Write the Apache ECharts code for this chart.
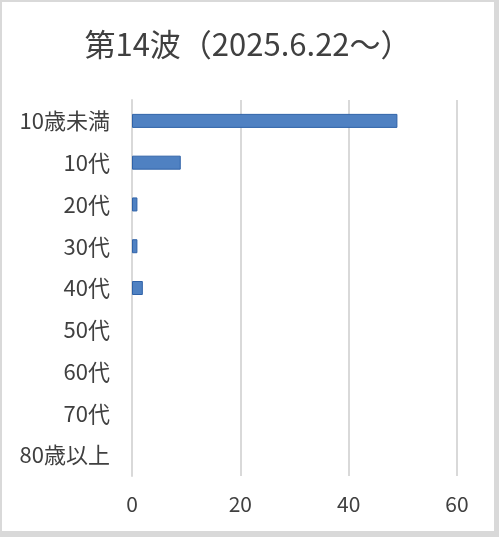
<!DOCTYPE html>
<html>
<head>
<meta charset="utf-8">
<script src="https://cdn.jsdelivr.net/npm/echarts@6/dist/echarts.min.js"></script>
<style>
  html, body { margin: 0; padding: 0; background: #d9d9d9; }
  #chart {
    position: absolute;
    left: 2px;
    top: 2px;
    width: 492px;
    height: 529px;
    background: #ffffff;
  }
</style>
</head>
<body>
<div id="chart"></div>
<script>
// 年代別
const ageGroups = ["10歳未満", "10代", "20代", "30代", "40代", "50代", "60代", "70代", "80歳以上"];
const counts = [49, 9, 1, 1, 2, 0, 0, 0, 0];
const xTicks = [0, 20, 40, 60];
const titleText = "第14波（2025.6.22～）";

const font = "'Noto Sans CJK JP', 'Noto Sans', sans-serif";
const chart = echarts.init(document.getElementById("chart"));

// 0件の棒は枠線を消す
const barData = counts.map(v => ({
  value: v,
  itemStyle: { borderWidth: v > 0 ? 1 : 0 }
}));

chart.setOption({
  animation: false,
  title: {
    text: titleText,
    left: "center",
    top: 22,
    textStyle: {
      fontFamily: font,
      fontSize: 31,
      fontWeight: "normal",
      color: "#404040"
    }
  },
  grid: {
    left: 130,
    right: 37,
    top: 98,
    bottom: 55,
    containLabel: false
  },
  xAxis: {
    type: "value",
    min: xTicks[0],
    max: xTicks[xTicks.length - 1],
    interval: xTicks[1] - xTicks[0],
    axisLine: { show: false },
    axisTick: { show: false },
    axisLabel: {
      margin: 18,
      fontFamily: font,
      fontSize: 21,
      color: "#404040"
    },
    splitLine: {
      lineStyle: { color: "#d9d9d9", width: 2 }
    }
  },
  yAxis: {
    type: "category",
    inverse: true,
    data: ageGroups,
    axisLine: {
      show: true,
      lineStyle: { color: "#d9d9d9", width: 2 }
    },
    axisTick: { show: false },
    axisLabel: {
      margin: 22,
      fontFamily: font,
      fontSize: 22,
      color: "#404040"
    }
  },
  series: [
    {
      type: "bar",
      data: barData,
      barWidth: 14,
      itemStyle: {
        color: "#4f81c2",
        borderColor: "#2f62a8"
      }
    }
  ]
});
</script>
</body>
</html>
